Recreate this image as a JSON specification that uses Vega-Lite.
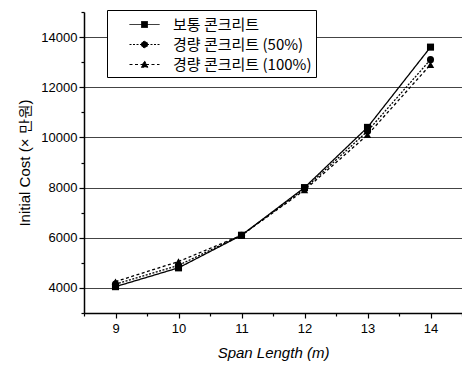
{
  "$schema": "https://vega.github.io/schema/vega-lite/v6.json",
  "width": 378,
  "height": 301,
  "autosize": "none",
  "padding": {"left": 84, "top": 12, "right": 0, "bottom": 58},
  "background": "white",
  "config": {
    "view": {"stroke": null},
    "font": "Liberation Sans"
  },
  "data": {
    "values": [
      {"span": 9, "cost": 4050, "series": "보통 콘크리트"},
      {"span": 10, "cost": 4800, "series": "보통 콘크리트"},
      {"span": 11, "cost": 6100, "series": "보통 콘크리트"},
      {"span": 12, "cost": 8000, "series": "보통 콘크리트"},
      {"span": 13, "cost": 10400, "series": "보통 콘크리트"},
      {"span": 14, "cost": 13600, "series": "보통 콘크리트"},
      {"span": 9, "cost": 4150, "series": "경량 콘크리트 (50%)"},
      {"span": 10, "cost": 4900, "series": "경량 콘크리트 (50%)"},
      {"span": 11, "cost": 6100, "series": "경량 콘크리트 (50%)"},
      {"span": 12, "cost": 7950, "series": "경량 콘크리트 (50%)"},
      {"span": 13, "cost": 10250, "series": "경량 콘크리트 (50%)"},
      {"span": 14, "cost": 13100, "series": "경량 콘크리트 (50%)"},
      {"span": 9, "cost": 4250, "series": "경량 콘크리트 (100%)"},
      {"span": 10, "cost": 5050, "series": "경량 콘크리트 (100%)"},
      {"span": 11, "cost": 6100, "series": "경량 콘크리트 (100%)"},
      {"span": 12, "cost": 7900, "series": "경량 콘크리트 (100%)"},
      {"span": 13, "cost": 10100, "series": "경량 콘크리트 (100%)"},
      {"span": 14, "cost": 12900, "series": "경량 콘크리트 (100%)"}
    ]
  },
  "encoding": {
    "x": {
      "field": "span", "type": "quantitative",
      "scale": {"domain": [8.5, 14.5], "nice": false, "zero": false},
      "axis": {
        "title": "Span Length (m)",
        "titleFont": "Liberation Sans", "titleFontSize": 15, "titleFontStyle": "italic", "titleFontWeight": "normal",
        "titleColor": "black", "titlePadding": 10,
        "values": [8.5, 9, 9.5, 10, 10.5, 11, 11.5, 12, 12.5, 13, 13.5, 14, 14.5],
        "labelExpr": "datum.value % 1 == 0 ? '' + datum.value : ''",
        "labelOverlap": false,
        "labelFontSize": 13, "labelColor": "black", "labelPadding": 4,
        "grid": false,
        "domainColor": "black", "domainWidth": 1.5,
        "tickColor": "black", "tickWidth": 1.2,
        "tickSize": {"condition": {"test": "datum.value % 1 == 0", "value": 5}, "value": 3}
      }
    },
    "y": {
      "field": "cost", "type": "quantitative",
      "scale": {"domain": [3000, 15000], "nice": false, "zero": false},
      "axis": {
        "title": "Initial Cost (× 만원)",
        "titleFont": "Liberation Sans", "titleFontSize": 15, "titleFontWeight": "normal", "titleColor": "black",
        "titlePadding": 8,
        "values": [3000, 4000, 5000, 6000, 7000, 8000, 9000, 10000, 11000, 12000, 13000, 14000, 15000],
        "format": "d",
        "labelExpr": "(datum.value % 2000 == 0 && datum.value >= 4000 && datum.value <= 14000) ? datum.label : ''",
        "labelFontSize": 13, "labelColor": "black", "labelPadding": 2,
        "grid": true,
        "gridColor": "#444",
        "gridWidth": 1.2,
        "gridOpacity": {"condition": {"test": "datum.value % 2000 == 0 && datum.value >= 4000 && datum.value <= 14000", "value": 1}, "value": 0},
        "domainColor": "black", "domainWidth": 1.5,
        "tickColor": "black", "tickWidth": 1.2,
        "tickSize": {"condition": {"test": "datum.value % 2000 == 0", "value": 5}, "value": 3}
      }
    }
  },
  "layer": [
    {
      "mark": {"type": "line", "color": "black", "strokeWidth": 1.3},
      "encoding": {
        "strokeDash": {
          "field": "series", "type": "nominal",
          "scale": {
            "domain": ["보통 콘크리트", "경량 콘크리트 (50%)", "경량 콘크리트 (100%)"],
            "range": [[1, 0], [2, 1.5], [3, 2.5]]
          },
          "legend": {
            "title": null,
            "orient": "none",
            "legendX": 23,
            "legendY": -2,
            "strokeColor": "black",
            "fillColor": "white",
            "padding": 4,
            "labelFont": "Noto Sans CJK KR",
            "labelFontSize": 15,
            "labelColor": "black",
            "labelOffset": 18,
            "symbolOffset": 23,
            "rowPadding": 1,
            "symbolSize": 400,
            "symbolFillColor": "black",
            "symbolStrokeColor": "black",
            "symbolStrokeWidth": 1,
            "symbolOpacity": 1,
            "encode": {
              "symbols": {
                "update": {
                  "shape": {"signal": "datum.value == '보통 콘크리트' ? 'M-1.5,0H1.5M-0.3,-0.3H0.3V0.3H-0.3Z' : datum.value == '경량 콘크리트 (50%)' ? 'M-1.5,0H1.5M-0.32,0A0.32,0.32 0 1,0 0.32,0A0.32,0.32 0 1,0 -0.32,0Z' : 'M-1.5,0H1.5M0,-0.36L0.34,0.27H-0.34Z'"},
                  "fill": {"value": "black"},
                  "stroke": {"value": "black"}
                }
              }
            }
          }
        }
      }
    },
    {
      "transform": [{"filter": "datum.series == '보통 콘크리트'"}],
      "mark": {"type": "point", "shape": "square", "filled": true, "color": "black", "opacity": 1, "size": 50}
    },
    {
      "transform": [{"filter": "datum.series == '경량 콘크리트 (50%)'"}],
      "mark": {"type": "point", "shape": "circle", "filled": true, "color": "black", "opacity": 1, "size": 50}
    },
    {
      "transform": [{"filter": "datum.series == '경량 콘크리트 (100%)'"}],
      "mark": {"type": "point", "shape": "triangle-up", "filled": true, "color": "black", "opacity": 1, "size": 55}
    }
  ]
}
